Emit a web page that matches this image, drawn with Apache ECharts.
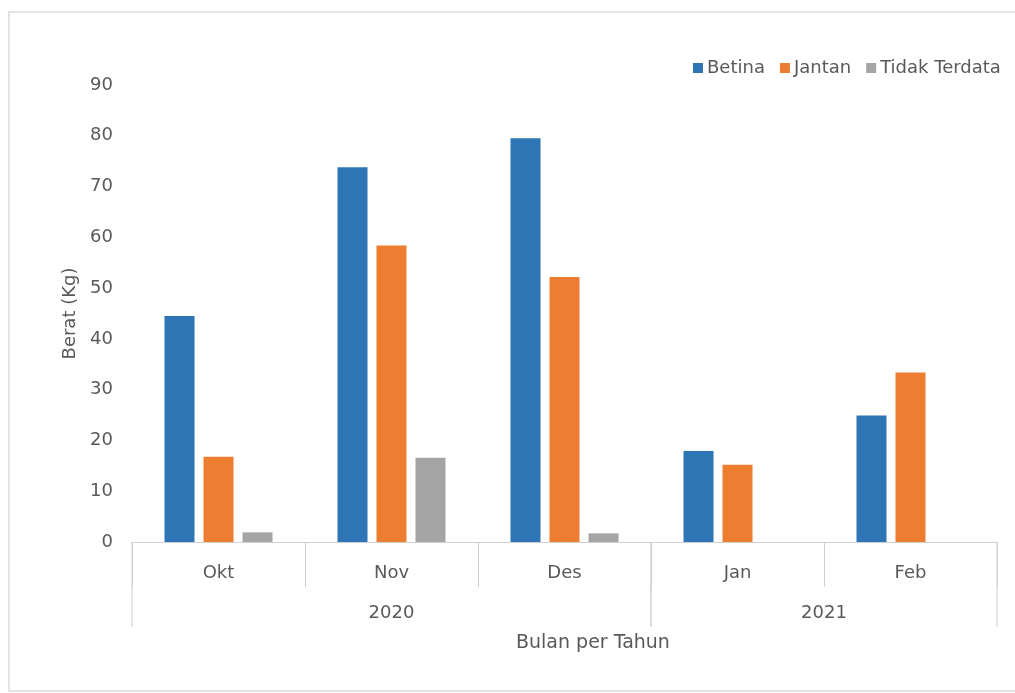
<!DOCTYPE html>
<html>
<head>
<meta charset="utf-8">
<script src="https://cdn.jsdelivr.net/npm/echarts@6/dist/echarts.min.js"></script>
<style>
  html, body { margin: 0; padding: 0; background: #ffffff; }
  #chart { width: 1015px; height: 693px; }
</style>
</head>
<body>
<div id="chart"></div>
<script>
// Monthly weight (kg) by sex, Oct 2020 – Feb 2021
const months = ['Okt', 'Nov', 'Des', 'Jan', 'Feb'];
const yearLabels = ['2020', '2021'];
const yearSpans = [3, 2];            // number of months under each year
const betina = [44.5, 73.8, 79.5, 17.9, 24.9];
const jantan = [16.8, 58.4, 52.2, 15.2, 33.4];
const tidakTerdata = [1.9, 16.6, 1.7, null, null];
const yTicks = [0, 10, 20, 30, 40, 50, 60, 70, 80, 90];

const FONT = 'DejaVu Sans';
const TEXT = '#595959';
const LINE = '#d0d0d0';

// year groups: [first month index, month count, label]
const yearGroups = [];
let start = 0;
yearSpans.forEach((n, i) => { yearGroups.push([start, n, yearLabels[i]]); start += n; });

const chart = echarts.init(document.getElementById('chart'));

chart.setOption({
  animation: false,
  backgroundColor: '#ffffff',
  color: ['#2E75B6', '#ED7D31', '#A5A5A5'],
  graphic: [
    {
      type: 'rect',
      shape: { x: 9, y: 12, width: 1020, height: 679 },
      style: { fill: 'none', stroke: '#dcdcdc', lineWidth: 1.5 },
      silent: true
    },
    {
      type: 'text',
      left: 516, top: 634,
      style: { text: 'Bulan per Tahun', font: '19px "' + FONT + '"', fill: TEXT }
    }
  ],
  legend: {
    data: ['Betina', 'Jantan', 'Tidak Terdata'],
    left: 688, top: 54,
    itemWidth: 10, itemHeight: 10, itemGap: 15,
    icon: 'rect',
    textStyle: { fontFamily: FONT, fontSize: 18, color: TEXT, padding: [0, 0, 0, -1] }
  },
  grid: { left: 132, right: 18, top: 85, bottom: 151 },
  xAxis: {
    type: 'category',
    data: months,
    axisLine: { lineStyle: { color: LINE, width: 1 } },
    axisTick: { show: true, interval: 0, length: 45, lineStyle: { color: LINE } },
    axisLabel: { interval: 0, margin: 22, fontFamily: FONT, fontSize: 18, color: TEXT }
  },
  yAxis: {
    type: 'value',
    min: yTicks[0], max: yTicks[yTicks.length - 1], interval: 10,
    name: 'Berat (Kg)',
    nameLocation: 'middle',
    nameGap: 52,
    nameTextStyle: { fontFamily: FONT, fontSize: 18, color: TEXT },
    axisLine: { show: false },
    axisTick: { show: false },
    splitLine: { show: false },
    axisLabel: { margin: 19, fontFamily: FONT, fontSize: 18, color: TEXT }
  },
  series: [
    { name: 'Betina', type: 'bar', data: betina, barWidth: 30, barGap: '30%' },
    { name: 'Jantan', type: 'bar', data: jantan, barWidth: 30, barGap: '30%' },
    { name: 'Tidak Terdata', type: 'bar', data: tidakTerdata, barWidth: 30, barGap: '30%' },
    {
      // second level of the category axis: year brackets and labels
      name: 'years',
      type: 'custom',
      data: yearGroups,
      encode: { x: 0, y: 1 },
      clip: false,
      silent: true,
      renderItem: function (params, api) {
        const first = api.value(0);
        const count = api.value(1);
        const c = api.coord([first, 0]);
        const w = api.size([1, 0])[0];
        const left = c[0] - w / 2;
        const right = left + count * w;
        const y0 = c[1];
        const label = yearGroups[params.dataIndex][2];
        return {
          type: 'group',
          children: [
            { type: 'line', shape: { x1: left, y1: y0, x2: left, y2: y0 + 85 },
              style: { stroke: LINE, lineWidth: 1 } },
            { type: 'line', shape: { x1: right, y1: y0, x2: right, y2: y0 + 85 },
              style: { stroke: LINE, lineWidth: 1 } },
            { type: 'text', x: (left + right) / 2, y: y0 + 71,
              style: { text: label, font: '18px "' + FONT + '"', fill: TEXT,
                       align: 'center', verticalAlign: 'middle' } }
          ]
        };
      }
    }
  ]
});
</script>
</body>
</html>
